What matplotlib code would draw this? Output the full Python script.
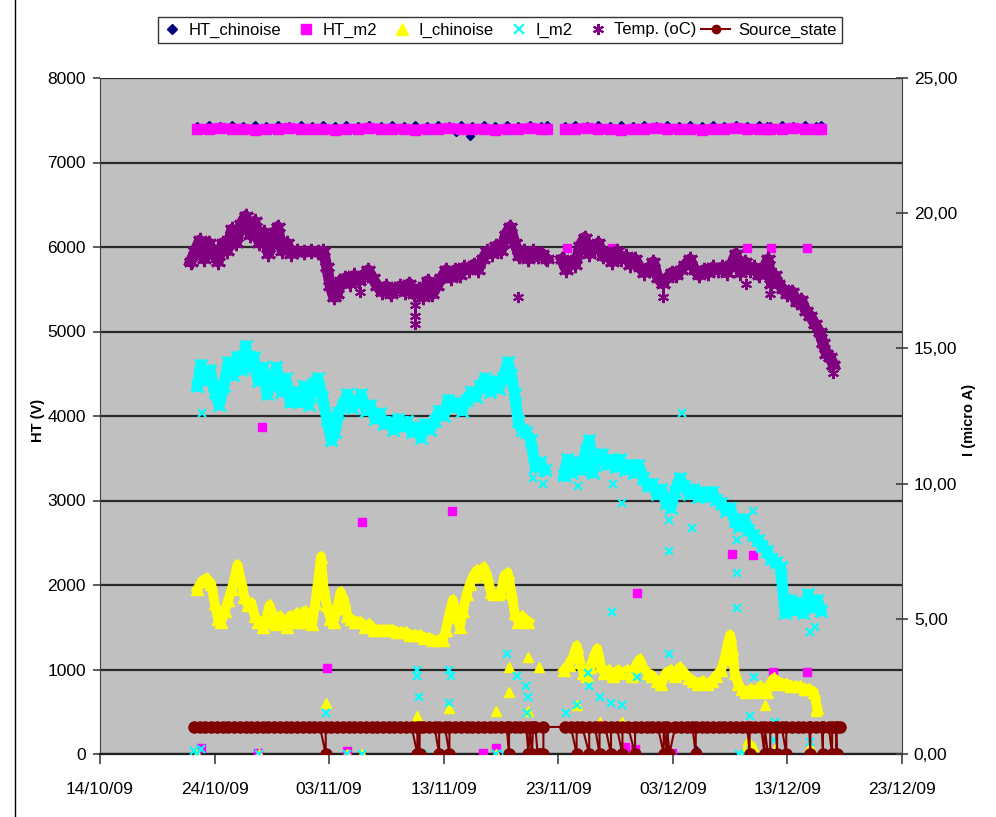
import datetime
import numpy as np
import matplotlib
matplotlib.use('Agg')
import matplotlib.pyplot as plt
import matplotlib.dates as mdates
from matplotlib.lines import Line2D
from matplotlib.legend_handler import HandlerLine2D

plt.rcParams['font.family'] = ['Liberation Sans', 'DejaVu Sans']
nan = np.nan

# days counted from 14/10/09
start_date = datetime.date(2009, 10, 14)
tick_days = [0, 10, 20, 30, 40, 50, 60, 70]

# HT (V), left axis
ht_days = [8.5, 9.5, 10.5, 11.5, 12.5, 13.5, 14.5, 15.5, 16.5, 17.5, 18.5, 19.5, 20.5, 21.5, 22.5, 23.5,
           24.5, 25.5, 26.5, 27.5, 28.5, 29.5, 30.5, 31.5, 32.5, 33.5, 34.5, 35.5, 36.5, 37.5, 38.5, 39.0,
           nan, 40.6, 41.5, 42.5, 43.5, 44.5, 45.5, 46.5, 47.5, 48.5, 49.5, 50.5, 51.5, 52.5, 53.5, 54.5,
           55.5, 56.5, 57.5, 58.2, nan, 58.5, 59.5, 60.5, 61.5, 62.5, 62.9]
ht_m2 = [7400, 7400, 7410, 7400, 7400, 7390, 7400, 7400, 7410, 7400, 7400, 7400, 7390, 7400, 7400, 7410,
         7400, 7400, 7400, 7390, 7400, 7400, 7410, 7400, 7400, 7400, 7390, 7400, 7400, 7410, 7400, 7400,
         nan, 7400, 7400, 7410, 7400, 7400, 7390, 7400, 7400, 7410, 7400, 7400, 7400, 7390, 7400, 7400,
         7410, 7400, 7400, 7400, nan, 7400, 7400, 7410, 7400, 7400, 7400]
ht_chinoise = [7440, 7450, 7440, 7450, 7440, 7450, 7440, 7450, 7440, 7450, 7440, 7450, 7440, 7450, 7440, 7450,
               7440, 7450, 7440, 7450, 7440, 7450, 7440, 7450, 7440, 7450, 7440, 7450, 7440, 7450, 7440, 7450,
               nan, 7440, 7450, 7440, 7450, 7440, 7450, 7440, 7450, 7440, 7450, 7440, 7450, 7440, 7450, 7440,
               7450, 7440, 7450, 7440, nan, 7440, 7450, 7440, 7450, 7440, 7450]
htc_extra_days = [31.1, 32.3, 45.8, 52.0]
htc_extra_vals = [7360, 7310, 80, 50]
htm2_extra_days = [8.8, 13.8, 14.1, 19.8, 21.6, 22.9, 30.7, 33.4, 34.6, 34.6, 40.75, 43.7, 44.7, 45.8, 46.7,
                   46.9, 49.9, 55.2, 56.5, 57.0, 58.6, 58.7, 61.7, 61.7, 62.9]
htm2_extra_vals = [70, 10, 3870, 1020, 40, 2750, 2880, 10, 70, 5980, 5990, 340, 5990, 80, 60,
                   1900, 10, 2370, 5990, 2350, 5990, 970, 5990, 970, 320]

# I (micro A) and temperature, right axis
ichin_days = [8.5, 8.9, 9.3, 9.7, 10.0, 10.3, 10.6, 10.9, 11.2, 11.5, 11.8, 12.0, 12.3, 12.6, 12.9, 13.2,
              13.5, 13.8, 14.2, 14.5, 14.8, 15.1, 15.4, 15.7, 16.0, 16.3, 16.6, 16.9, 17.2, 17.5, 17.9, 18.2,
              18.5, 18.8, 19.1, 19.3, 19.5, 19.8, 20.1, 20.4, 20.7, 21.0, 21.3, 21.6, 21.9, 22.3, 22.7, 23.1,
              23.5, 23.9, 24.3, 24.7, 25.1, 25.5, 25.9, 26.3, 26.7, 27.1, 27.5, 27.9, 28.3, 28.7, 29.1, 29.5,
              29.9, 30.2, 30.5, 30.8, 31.1, 31.4, 31.7, 32.0, 32.3, 32.6, 32.9, 33.2, 33.5, 33.8, 34.1, 34.4,
              34.7, 35.0, 35.3, 35.6, 35.9, 36.2, 36.5, 36.8, 37.1, 37.4,
              nan, 40.5, 40.9, 41.3, 41.6, 41.9, 42.2, 42.5, 42.8, 43.1, 43.4, 43.7, 44.0, 44.4, 44.8, 45.2,
              45.6, 46.0, 46.4, 46.8, 47.1, 47.4, 47.8, 48.2, 48.6, 49.0, 49.4, 49.8, 50.2, 50.6, 51.0, 51.4,
              51.8, 52.2, 52.6, 53.0, 53.4, 53.8, 54.2, 54.5, 54.8, 55.0, 55.2, 55.4, 55.7, 56.0, 56.4, 56.8,
              57.2, 57.6, 57.9, 58.2, 58.5, 58.8, 59.1, 59.5, 59.9, 60.3, 60.7, 61.1, 61.5, 61.9, 62.3, 62.6]
ichin_vals = [6.1, 6.4, 6.5, 6.3, 5.6, 5.0, 4.9, 5.3, 5.7, 6.1, 6.6, 7.0, 6.4, 5.8, 5.5, 5.6,
              5.1, 4.9, 4.7, 5.0, 5.5, 4.9, 4.8, 5.1, 4.9, 4.7, 5.1, 4.9, 5.2, 4.9, 5.3, 4.9,
              4.8, 5.6, 6.6, 7.3, 6.2, 5.5, 5.0, 4.9, 5.4, 6.0, 5.7, 5.1, 5.0, 4.9, 4.9, 4.7,
              4.8, 4.6, 4.6, 4.6, 4.6, 4.6, 4.5, 4.5, 4.5, 4.4, 4.4, 4.4, 4.3, 4.3, 4.2, 4.2,
              4.2, 4.6, 5.2, 5.7, 5.1, 4.7, 5.3, 5.9, 6.3, 6.6, 6.8, 6.7, 6.9, 6.6, 6.0, 5.9,
              5.9, 6.0, 6.6, 6.7, 6.0, 5.2, 4.9, 5.1, 5.0, 4.9,
              nan, 3.1, 3.3, 3.6, 4.0, 3.4, 3.0, 2.9, 3.2, 3.6, 3.9, 3.3, 3.0, 3.1, 2.9, 3.1,
              3.0, 3.1, 2.9, 3.3, 3.5, 3.2, 3.0, 2.9, 2.7, 2.6, 3.0, 3.1, 2.9, 3.2, 3.0, 2.8,
              2.7, 2.6, 2.7, 2.6, 2.7, 2.9, 3.1, 3.5, 4.1, 4.4, 3.9, 3.0, 2.6, 2.4, 2.3, 2.4,
              2.3, 2.5, 2.4, 2.3, 2.6, 2.8, 2.7, 2.6, 2.6, 2.5, 2.5, 2.5, 2.4, 2.4, 2.3, 1.7]
ichin_extra_days = [8.5, 13.9, 19.7, 21.6, 22.9, 27.7, 28.0, 30.5, 34.6, 34.6, 35.7, 35.7, 37.4, 37.4, 38.3,
                    41.6, 43.6, 45.6, 56.2, 56.6, 57.0, 58.0, 58.9, 62.0, 62.5]
ichin_extra_vals = [0.0, 0.0, 1.9, 0.0, 0.0, 1.4, 0.0, 1.7, 1.6, 0.0, 3.2, 2.3, 3.6, 1.6, 3.2,
                    1.8, 1.2, 1.2, 0.1, 0.5, 0.3, 1.8, 0.2, 0.3, 1.6]

im2_days = [8.5, 8.8, 9.2, 9.6, 10.0, 10.4, 10.8, 11.2, 11.6, 12.0, 12.4, 12.7, 13.0, 13.4, 13.8, 14.2,
            14.6, 15.0, 15.4, 15.8, 16.2, 16.6, 17.0, 17.4, 17.8, 18.2, 18.6, 19.0, 19.4, 19.8, 20.2, 20.5,
            20.8, 21.2, 21.6, 22.0, 22.4, 22.8, 23.2, 23.6, 24.0, 24.4, 24.8, 25.2, 25.6, 26.0, 26.4, 26.8,
            27.2, 27.6, 28.0, 28.4, 28.8, 29.2, 29.6, 30.0, 30.4, 30.8, 31.2, 31.6, 32.0, 32.4, 32.8, 33.2,
            33.6, 34.0, 34.4, 34.8, 35.2, 35.6, 35.9, 36.2, 36.5, 36.8, 37.2, 37.6, 38.0, 38.4, 38.8,
            nan, 40.5, 40.8, 41.2, 41.6, 42.0, 42.4, 42.7, 43.0, 43.4, 43.8, 44.2, 44.6, 45.0, 45.4, 45.8,
            46.2, 46.6, 47.0, 47.4, 47.8, 48.2, 48.6, 49.0, 49.4, 49.8, 50.2, 50.6, 51.0, 51.4, 51.8, 52.2,
            52.6, 53.0, 53.4, 53.8, 54.2, 54.6, 55.0, 55.4, 55.8, 56.2, 56.6, 57.0, 57.4, 57.8, 58.2, 58.6,
            59.0, 59.4, 59.8, 60.2, 60.6, 61.0, 61.4, 61.8, 62.2, 62.6, 62.9]
im2_vals = [13.6, 14.4, 13.8, 14.2, 13.4, 12.9, 13.6, 14.5, 14.0, 14.7, 14.2, 15.1, 14.3, 14.7, 13.8, 14.3,
            13.3, 13.8, 14.3, 13.4, 13.9, 13.0, 13.4, 13.0, 13.6, 12.9, 13.7, 13.9, 13.2, 12.4, 11.6, 11.9,
            12.6, 12.9, 13.3, 12.8, 13.0, 13.3, 12.7, 12.9, 12.4, 12.6, 12.2, 12.3, 12.0, 12.4, 12.1, 12.3,
            11.9, 12.1, 11.7, 12.2, 12.0, 12.3, 12.7, 12.5, 13.1, 12.8, 13.0, 12.7, 13.1, 13.4, 13.2, 13.6,
            13.9, 13.4, 13.8, 13.5, 13.9, 14.5, 14.0, 13.3, 12.3, 12.0, 11.9, 11.6, 10.6, 10.8, 10.5,
            nan, 10.3, 10.9, 10.4, 10.8, 10.5, 11.2, 11.6, 10.4, 10.9, 11.1, 10.7, 10.9, 10.6, 10.9, 10.5,
            10.7, 10.4, 10.7, 10.2, 9.9, 10.0, 9.6, 9.8, 9.3, 9.1, 9.7, 10.2, 9.9, 9.6, 9.8, 9.5,
            9.7, 9.5, 9.7, 9.4, 9.3, 9.0, 9.1, 8.6, 8.4, 8.7, 8.3, 8.1, 7.9, 7.7, 7.5, 7.2,
            7.1, 6.9, 5.2, 5.7, 5.3, 5.6, 5.2, 5.9, 5.4, 5.7, 5.3]
im2_extra_days = [8.2, 8.5, 8.8, 8.9, 13.9, 19.7, 19.8, 21.6, 22.9, 27.7, 27.7, 27.8, 28.2, 30.5, 30.6, 30.5,
                  34.6, 35.3, 35.5, 36.4, 37.2, 37.4, 37.3, 37.8, 38.7,
                  40.7, 40.8, 41.6, 41.7, 42.6, 42.7, 43.6, 44.6, 44.7, 44.8, 45.6, 45.6, 46.9, 49.7, 49.7,
                  49.7, 50.8, 51.7, 55.6, 55.6, 55.6, 55.8, 56.2, 56.7, 57.0, 57.1, 58.8, 58.9, 62.0, 62.0,
                  62.4, 64.4]
im2_extra_vals = [0.1, 0.0, 0.2, 12.6, 0.0, 1.5, 0.0, 0.0, 0.0, 3.1, 2.9, 2.1, 0.0, 3.1, 2.9, 1.9,
                  0.0, 0.0, 3.7, 2.9, 2.5, 2.1, 1.5, 10.2, 10.0,
                  1.5, 10.2, 1.8, 9.9, 3.0, 2.5, 2.1, 1.9, 5.25, 10.0, 1.8, 9.3, 2.85, 8.65, 7.5,
                  3.7, 12.6, 8.35, 7.9, 6.7, 5.4, 0.0, 0.0, 1.4, 9.0, 2.85, 0.5, 1.2, 0.45, 4.5,
                  4.7, 0.0]

temp_days = [7.9, 8.3, 8.7, 9.1, 9.5, 9.9, 10.3, 10.7, 11.1, 11.5, 11.9, 12.3, 12.7, 13.1, 13.5, 13.9,
             14.3, 14.7, 15.1, 15.5, 15.9, 16.3, 16.7, 17.2, 17.8, 18.4, 19.0, 19.5, 19.8, 20.1, 20.4, 20.7,
             21.0, 21.4, 21.8, 22.2, 22.6, 23.0, 23.4, 23.8, 24.2, 24.6, 25.0, 25.4, 25.8, 26.2, 26.6, 27.0,
             27.4, 27.8, 28.2, 28.6, 29.0, 29.4, 29.8, 30.2, 30.6, 31.0, 31.4, 31.8, 32.2, 32.6, 33.0, 33.4,
             33.8, 34.2, 34.6, 35.0, 35.4, 35.8, 36.2, 36.6, 37.0, 37.4, 37.8, 38.2, 38.6, 39.0,
             nan, 40.3, 40.7, 41.1, 41.5, 41.9, 42.3, 42.7, 43.1, 43.5, 43.9, 44.3, 44.7, 45.1, 45.5, 45.9,
             46.3, 46.7, 47.1, 47.5, 47.9, 48.3, 48.7, 49.1, 49.5, 49.9, 50.3, 50.7, 51.1, 51.5, 51.9, 52.3,
             52.7, 53.1, 53.5, 53.9, 54.3, 54.7, 55.1, 55.5, 55.9, 56.3, 56.7, 57.1, 57.5, 57.9, 58.3, 58.6,
             58.9, 59.2, 59.6, 60.0, 60.4, 60.8, 61.2, 61.6, 62.0, 62.4, 62.8, 63.1, 63.4, 63.7, 64.0]
temp_vals = [18.2, 18.6, 19.0, 18.3, 18.9, 18.5, 18.2, 18.9, 18.6, 19.4, 18.9, 19.6, 19.9, 19.2, 19.7, 18.9,
             19.3, 18.5, 19.0, 19.5, 18.6, 18.9, 18.5, 18.6, 18.55, 18.6, 18.55, 18.6, 18.0, 17.3, 16.9, 17.0,
             17.5, 17.6, 17.4, 17.7, 17.5, 17.7, 17.9, 17.6, 17.3, 17.1, 17.3, 17.0, 17.2, 17.3, 17.1, 17.4,
             17.0, 17.2, 16.9, 17.5, 17.0, 17.3, 17.6, 17.9, 17.6, 17.9, 17.7, 18.0, 17.9, 18.1, 17.9, 18.3,
             18.6, 18.5, 18.8, 18.6, 19.2, 19.5, 18.9, 18.4, 18.6, 18.3, 18.6, 18.4, 18.5, 18.3,
             nan, 18.3, 17.9, 18.2, 18.1, 18.8, 19.1, 18.5, 18.7, 18.9, 18.4, 18.5, 18.2, 18.6, 18.3, 18.4,
             18.1, 18.3, 18.0, 17.8, 17.9, 18.2, 17.6, 17.4, 17.6, 17.8, 17.7, 17.9, 18.1, 18.3, 17.9, 17.7,
             17.9, 17.8, 18.0, 17.9, 18.0, 17.8, 18.1, 18.5, 17.8, 18.2, 17.9, 18.0, 17.7, 17.9, 18.3, 17.4,
             17.7, 17.4, 17.2, 17.0, 17.1, 16.7, 16.8, 16.4, 16.2, 15.9, 15.6, 15.2, 14.8, 14.7, 14.4]
temp_extra_days = [22.7, 27.5, 27.5, 27.5, 36.5, 49.1, 56.4, 58.5, 64.0]
temp_extra_vals = [17.1, 16.6, 16.2, 15.9, 16.9, 16.9, 17.4, 17.0, 14.1]

src_days = [8.2, 8.7, 9.2, 9.7, 10.2, 10.7, 11.2, 11.7, 12.2, 12.7, 13.2, 13.7, 14.2, 14.7, 15.2, 15.7,
            16.2, 16.7, 17.2, 17.7, 18.2, 18.7, 19.2, 19.7, 19.7, 20.2, 20.7, 21.2, 21.7, 22.2, 22.7, 23.2,
            23.7, 24.2, 24.7, 25.2, 25.7, 26.2, 26.7, 27.2, 27.7, 27.7, 27.9, 27.9, 28.2, 28.7, 29.2, 29.6,
            29.6, 30.1, 30.5, 30.5, 31.0, 31.5, 32.0, 32.5, 33.0, 33.5, 34.0, 34.5, 35.0, 35.5, 35.7, 35.7,
            36.2, 36.7, 37.2, 37.4, 37.5, 37.7, 37.8, 38.0, 38.2, 38.5, 38.7, 38.7,
            40.6, 41.1, 41.6, 41.6, 42.1, 42.7, 42.7, 43.2, 43.6, 43.6, 44.1, 44.6, 44.6, 45.1, 45.6, 45.6,
            46.1, 46.7, 46.7, 47.2, 47.7, 48.2, 48.7, 49.2, 49.2, 49.5, 49.5, 49.7, 50.2, 50.7, 51.2, 51.7,
            52.0, 52.0, 52.5, 53.0, 53.5, 54.0, 54.5, 55.0, 55.5, 56.0, 56.5, 56.7, 56.7, 57.2, 57.7, 58.0,
            58.0, 58.3, 58.5, 58.5, 59.0, 59.1, 59.1, 59.5, 59.9, 59.9, 60.4, 60.9, 61.4, 61.9, 62.0, 62.0,
            62.5, 63.0, 63.1, 63.1, 63.6, 63.9, 63.9, 64.2, 64.3, 64.3, 64.6]
src_vals = [1, 1, 1, 1, 1, 1, 1, 1, 1, 1, 1, 1, 1, 1, 1, 1,
            1, 1, 1, 1, 1, 1, 1, 0, 1, 1, 1, 1, 1, 1, 1, 1,
            1, 1, 1, 1, 1, 1, 1, 1, 0, 1, 0, 1, 1, 1, 1, 0,
            1, 1, 0, 1, 1, 1, 1, 1, 1, 1, 1, 1, 1, 1, 0, 1,
            1, 1, 1, 0, 1, 0, 1, 1, 0, 0, 0, 1,
            1, 1, 0, 1, 1, 0, 1, 1, 0, 1, 1, 0, 1, 1, 0, 1,
            1, 0, 1, 1, 1, 1, 1, 0, 1, 0, 1, 0, 1, 1, 1, 1,
            0, 1, 1, 1, 1, 1, 1, 1, 1, 1, 1, 0, 1, 1, 1, 0,
            1, 0, 0, 1, 1, 0, 1, 1, 0, 1, 1, 1, 1, 1, 0, 1,
            1, 1, 0, 1, 1, 0, 1, 1, 0, 1, 1]

c_htc = '#000080'
c_htm2 = '#FF00FF'
c_ichin = '#FFFF00'
c_im2 = '#00FFFF'
c_temp = '#800080'
c_src = '#800000'
star = (6, 2, 0)

base = mdates.date2num(start_date)


def X(days):
    return base + np.asarray(days, dtype=float)


class WideLine(HandlerLine2D):
    # source_state legend line reaches back into the column gap
    def create_artists(self, legend, orig_handle, xdescent, ydescent, width, height, fontsize, trans):
        return super().create_artists(legend, orig_handle, xdescent + 0.75 * width, ydescent,
                                      1.75 * width, height, fontsize, trans)


fig = plt.figure(figsize=(9.96, 8.17), dpi=100)
ax = fig.add_axes([100 / 996, 1 - 754 / 817, 802 / 996, 676 / 817])
ax.set_facecolor('#C0C0C0')

# HT series on the left axis
ax.plot(X(ht_days), ht_chinoise, ls='none', marker='D', ms=3, color=c_htc, zorder=3)
ax.plot(X(htc_extra_days), htc_extra_vals, ls='none', marker='D', ms=4, color=c_htc, zorder=3)
ax.plot(X(ht_days), ht_m2, color=c_htm2, lw=7, marker='s', ms=7, zorder=4)
ax.plot(X(htm2_extra_days), htm2_extra_vals, ls='none', marker='s', ms=6, color=c_htm2, zorder=4)

ax.set_ylim(0, 8000)
ax.set_yticks(range(0, 8001, 1000))
ax.set_xlim(base + tick_days[0], base + tick_days[-1])
ax.set_xticks(X(tick_days))
ax.xaxis.set_major_formatter(mdates.DateFormatter('%d/%m/%y'))
ax.yaxis.grid(True, color='#2a2a2a', lw=1.6)
ax.set_axisbelow(True)
for s in ['top', 'right']:
    ax.spines[s].set_visible(False)
ax.spines['left'].set_color('#404040')
ax.spines['bottom'].set_color('#202020')
ax.spines['bottom'].set_linewidth(1.6)
ax.tick_params(axis='y', direction='out', length=5, width=1.2, color='#404040', labelsize=12.5, pad=5)
ax.tick_params(axis='x', direction='out', length=7, width=1.2, color='#404040', labelsize=12.5, pad=13)

# currents, temperature and source state on the right axis
ax2 = ax.twinx()
ax2.plot(X(ichin_days), ichin_vals, color=c_ichin, lw=7, marker='^', ms=9, zorder=3)
ax2.plot(X(ichin_extra_days), ichin_extra_vals, ls='none', marker='^', ms=7, color=c_ichin, zorder=3)
ax2.plot(X(im2_days), im2_vals, color=c_im2, lw=8, marker='x', ms=9, mew=2, zorder=4)
ax2.plot(X(im2_extra_days), im2_extra_vals, ls='none', marker='x', ms=6, mew=1.5, color=c_im2, zorder=4)
ax2.plot(X(temp_days), temp_vals, color=c_temp, lw=8, marker=star, ms=11, mew=2, zorder=5)
ax2.plot(X(temp_extra_days), temp_extra_vals, ls='none', marker=star, ms=8, mew=1.5, color=c_temp, zorder=5)
ax2.plot(X(src_days), src_vals, color=c_src, lw=1.5, marker='o', ms=8, zorder=6)

ax2.set_ylim(0, 25)
ax2.set_yticks([0, 5, 10, 15, 20, 25])
ax2.set_yticklabels(['0,00', '5,00', '10,00', '15,00', '20,00', '25,00'])
for s in ['top', 'left', 'bottom']:
    ax2.spines[s].set_visible(False)
ax2.spines['right'].set_color('#404040')
ax2.tick_params(axis='y', direction='inout', length=9, width=1.2, color='#404040', labelsize=12.5, pad=4)

fig.text(38 / 996, 1 - 420 / 817, 'HT (V)', rotation=90, ha='center', va='center',
         fontsize=10.5, fontweight='bold')
fig.text(969 / 996, 1 - 420 / 817, 'I (micro A)', rotation=90, ha='center', va='center',
         fontsize=10.5, fontweight='bold')

handles = [Line2D([], [], ls='none', marker='D', ms=5, color=c_htc),
           Line2D([], [], ls='none', marker='s', ms=7, color=c_htm2),
           Line2D([], [], ls='none', marker='^', ms=8, color=c_ichin),
           Line2D([], [], ls='none', marker='x', ms=7, mew=1.5, color=c_im2),
           Line2D([], [], ls='none', marker=star, ms=8, mew=1.5, color=c_temp),
           Line2D([], [], color=c_src, lw=1.5, marker='o', ms=6)]
labels = ['HT_chinoise', 'HT_m2', 'I_chinoise', 'I_m2', 'Temp. (oC)', 'Source_state']
leg = fig.legend(handles, labels, loc='center', bbox_to_anchor=(500 / 996, 1 - 30 / 817), ncol=6,
                 fontsize=12, frameon=True, fancybox=False, edgecolor='black', handlelength=1.0,
                 handletextpad=0.5, columnspacing=1.0, borderpad=0.3,
                 handler_map={handles[5]: WideLine()})
leg.get_frame().set_linewidth(1.0)

fig.add_artist(Line2D([15 / 996, 15 / 996], [0, 1], color='black', lw=1, transform=fig.transFigure))

fig.savefig('out.png', dpi=100)
